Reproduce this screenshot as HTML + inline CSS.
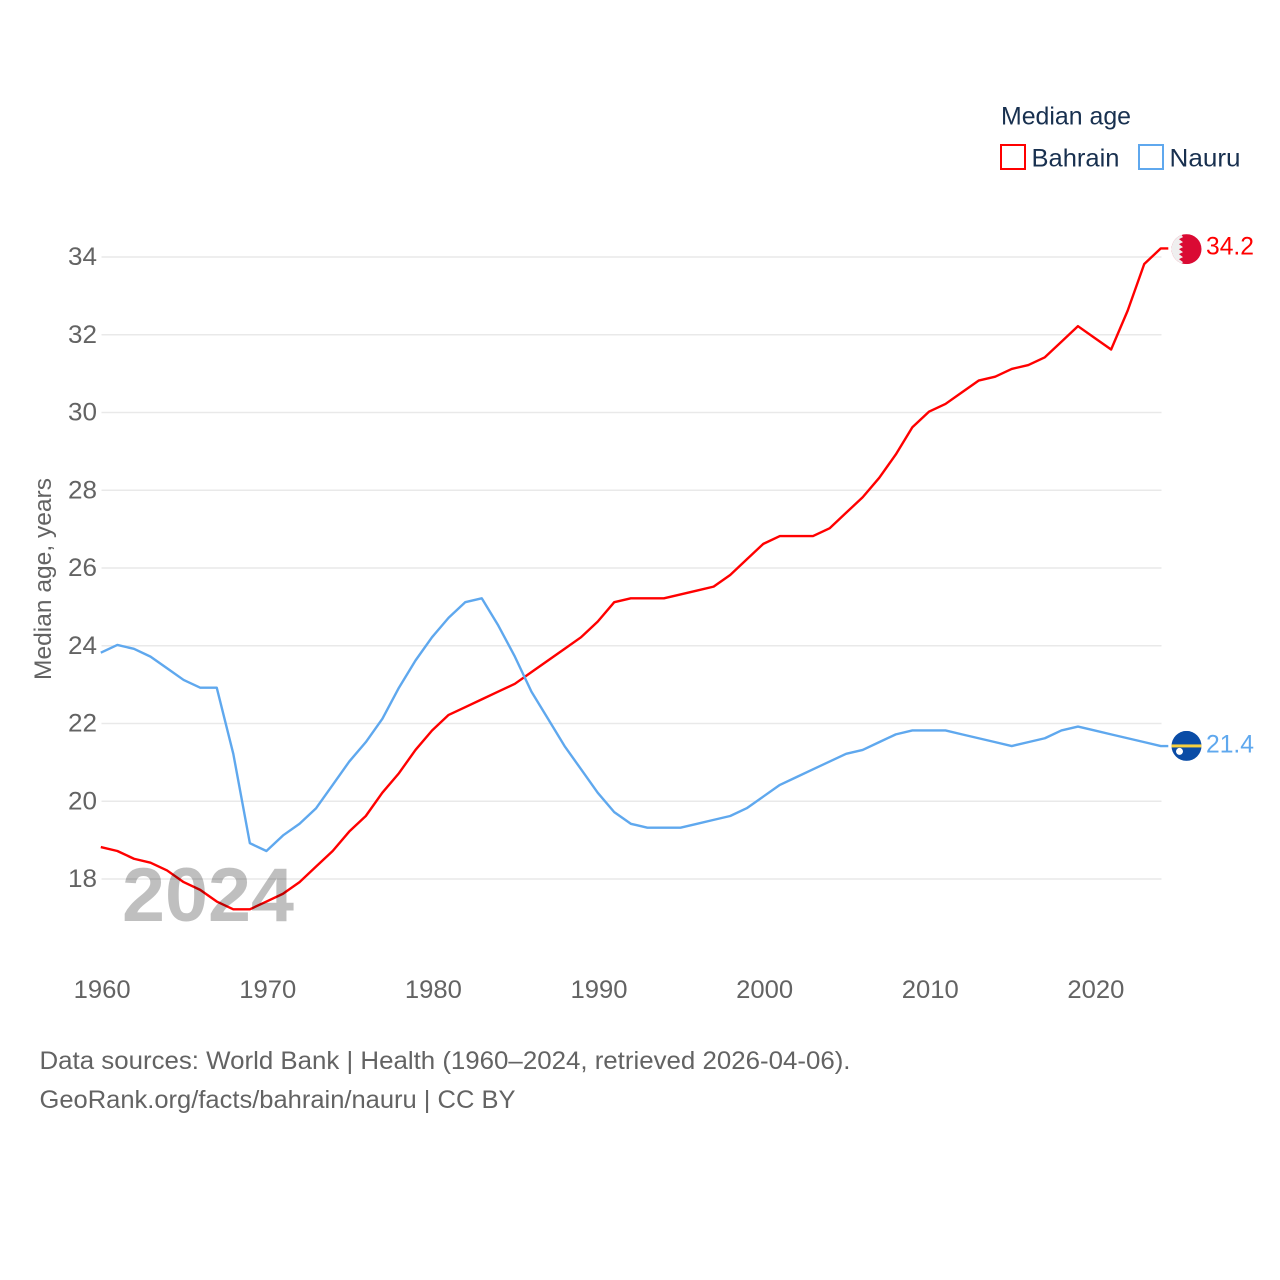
<!DOCTYPE html>
<html>
<head>
<meta charset="utf-8">
<title>Median age: Bahrain and Nauru</title>
<style>
html,body{margin:0;padding:0;background:#fff;width:1280px;height:1280px;overflow:hidden}
svg{display:block}
text{font-family:"Liberation Sans",sans-serif}
</style>
</head>
<body>
<svg id="chart" width="1280" height="1280" viewBox="0 0 1280 1280" xmlns="http://www.w3.org/2000/svg">
  <rect width="1280" height="1280" fill="#fff"/>
  <g id="grid"></g>
  <g id="yticks"></g>
  <g id="xticks"></g>
  <text transform="translate(51,680) rotate(-90)" font-size="24" fill="#636363" textLength="202" lengthAdjust="spacingAndGlyphs">Median age, years</text>
  <g id="series" transform="translate(-0.7,-0.8)"></g>
  <text x="122" y="921" font-size="76" font-weight="700" fill="#000" fill-opacity="0.25" textLength="172" lengthAdjust="spacingAndGlyphs">2024</text>
  <g>
    <text x="1001" y="124.5" font-size="25" fill="#18304f" textLength="130" lengthAdjust="spacingAndGlyphs">Median age</text>
    <g>
      <rect x="1001" y="145" width="24" height="24" fill="none" stroke="#ff0000" stroke-width="2"/>
      <text x="1031.5" y="166.5" font-size="25" fill="#18304f" textLength="88" lengthAdjust="spacingAndGlyphs">Bahrain</text>
    </g>
    <g>
      <rect x="1139" y="145" width="24" height="24" fill="none" stroke="#5fa8ee" stroke-width="2"/>
      <text x="1169.5" y="166.5" font-size="25" fill="#18304f" textLength="71" lengthAdjust="spacingAndGlyphs">Nauru</text>
    </g>
  </g>
  <defs>
    <clipPath id="clip-bahrain"><circle id="clip-bahrain-circle" cx="1186.5" cy="248" r="15"/></clipPath>
    <clipPath id="clip-nauru"><circle id="clip-nauru-circle" cx="1186.5" cy="746" r="15"/></clipPath>
  </defs>
  <g id="flag-bahrain" clip-path="url(#clip-bahrain)">
    <rect x="1171" y="233" width="31" height="30" fill="#da0a33"/>
    <polygon points="1171,233 1181,233 1183,236 1179,238 1183,241 1179,243 1183,246 1179,248 1183,251 1179,253 1183,256 1179,258 1183,261 1181,263 1171,263" fill="#efefef"/>
  </g>
  <g id="flag-nauru" clip-path="url(#clip-nauru)">
    <rect x="1171" y="731" width="31" height="30" fill="#0a4ca6"/>
    <rect x="1171" y="744.5" width="31" height="3" fill="#f6cf3f"/>
    <circle cx="1179.5" cy="751.5" r="3.5" fill="#fff"/>
  </g>
  <g id="endlabels"></g>
  <g>
    <text x="39.5" y="1069" font-size="25" fill="#636363" textLength="811" lengthAdjust="spacingAndGlyphs">Data sources: World Bank | Health (1960–2024, retrieved 2026-04-06).</text>
    <text x="39.5" y="1108" font-size="25" fill="#636363" textLength="476" lengthAdjust="spacingAndGlyphs">GeoRank.org/facts/bahrain/nauru | CC BY</text>
  </g>
</svg>
<script>
const years = [1960,1961,1962,1963,1964,1965,1966,1967,1968,1969,1970,1971,1972,1973,1974,1975,1976,1977,1978,1979,1980,1981,1982,1983,1984,1985,1986,1987,1988,1989,1990,1991,1992,1993,1994,1995,1996,1997,1998,1999,2000,2001,2002,2003,2004,2005,2006,2007,2008,2009,2010,2011,2012,2013,2014,2015,2016,2017,2018,2019,2020,2021,2022,2023,2024];
const bahrainValues = [18.8,18.7,18.5,18.4,18.2,17.9,17.7,17.4,17.2,17.2,17.4,17.6,17.9,18.3,18.7,19.2,19.6,20.2,20.7,21.3,21.8,22.2,22.4,22.6,22.8,23.0,23.3,23.6,23.9,24.2,24.6,25.1,25.2,25.2,25.2,25.3,25.4,25.5,25.8,26.2,26.6,26.8,26.8,26.8,27.0,27.4,27.8,28.3,28.9,29.6,30.0,30.2,30.5,30.8,30.9,31.1,31.2,31.4,31.8,32.2,31.9,31.6,32.6,33.8,34.2];
const nauruValues = [23.8,24.0,23.9,23.7,23.4,23.1,22.9,22.9,21.2,18.9,18.7,19.1,19.4,19.8,20.4,21.0,21.5,22.1,22.9,23.6,24.2,24.7,25.1,25.2,24.5,23.7,22.8,22.1,21.4,20.8,20.2,19.7,19.4,19.3,19.3,19.3,19.4,19.5,19.6,19.8,20.1,20.4,20.6,20.8,21.0,21.2,21.3,21.5,21.7,21.8,21.8,21.8,21.7,21.6,21.5,21.4,21.5,21.6,21.8,21.9,21.8,21.7,21.6,21.5,21.4];
const yTickLabels = [18,20,22,24,26,28,30,32,34];
const xTickLabels = [1960,1970,1980,1990,2000,2010,2020];

const NS = 'http://www.w3.org/2000/svg';
function xScale(year){ return 101.5 + (year - 1960) * (1161.5 - 101.5) / 64; }
function yScale(v){ return 879 + (v - 18) * (257 - 879) / 16; }
function make(tag, attrs, parent){
  const el = document.createElementNS(NS, tag);
  for (const k in attrs) el.setAttribute(k, attrs[k]);
  parent.appendChild(el);
  return el;
}

const grid = document.getElementById('grid');
const yticks = document.getElementById('yticks');
yTickLabels.forEach(function(t){
  const line = make('line', {x1:101.5, x2:1161.5, y1:yScale(t), y2:yScale(t), stroke:'#e9e9e9', 'stroke-width':1.5}, grid);
  
  
  const label = make('text', {x:97, y:yScale(t)+8, 'text-anchor':'end', 'font-size':25, fill:'#636363', textLength:29, lengthAdjust:'spacingAndGlyphs'}, yticks);
  
  
  label.textContent = t;
});

const xticks = document.getElementById('xticks');
xTickLabels.forEach(function(t){
  const label = make('text', {x:xScale(t)+0.7, y:998, 'text-anchor':'middle', 'font-size':25, fill:'#636363', textLength:57, lengthAdjust:'spacingAndGlyphs'}, xticks);
  
  
  label.textContent = t;
});

const seriesGroup = document.getElementById('series');
const endlabels = document.getElementById('endlabels');
function drawSeries(key, values, color){
  const pts = values.map(function(v, i){ return xScale(years[i]).toFixed(2) + ',' + yScale(v).toFixed(2); });
  const lastY = yScale(values[values.length - 1]);
  pts.push('1169,' + lastY.toFixed(2));
  const line = make('polyline', {points:pts.join(' '), fill:'none', stroke:color, 'stroke-width':2.4, 'stroke-linejoin':'round'}, seriesGroup);
  
  
  const label = make('text', {x:1206, y:lastY+5.5, 'font-size':25, fill:color, textLength:48, lengthAdjust:'spacingAndGlyphs'}, endlabels);
  
  
  label.textContent = values[values.length - 1].toFixed(1);
  return lastY;
}
const bahrainEndY = drawSeries('bahrain', bahrainValues, '#ff0000');
const nauruEndY = drawSeries('nauru', nauruValues, '#5fa8ee');
document.getElementById('flag-bahrain').setAttribute('transform', 'translate(0,' + (bahrainEndY - 248.1).toFixed(2) + ')');
document.getElementById('flag-nauru').setAttribute('transform', 'translate(0,' + (nauruEndY - 746.9).toFixed(2) + ')');
</script>
</body>
</html>
